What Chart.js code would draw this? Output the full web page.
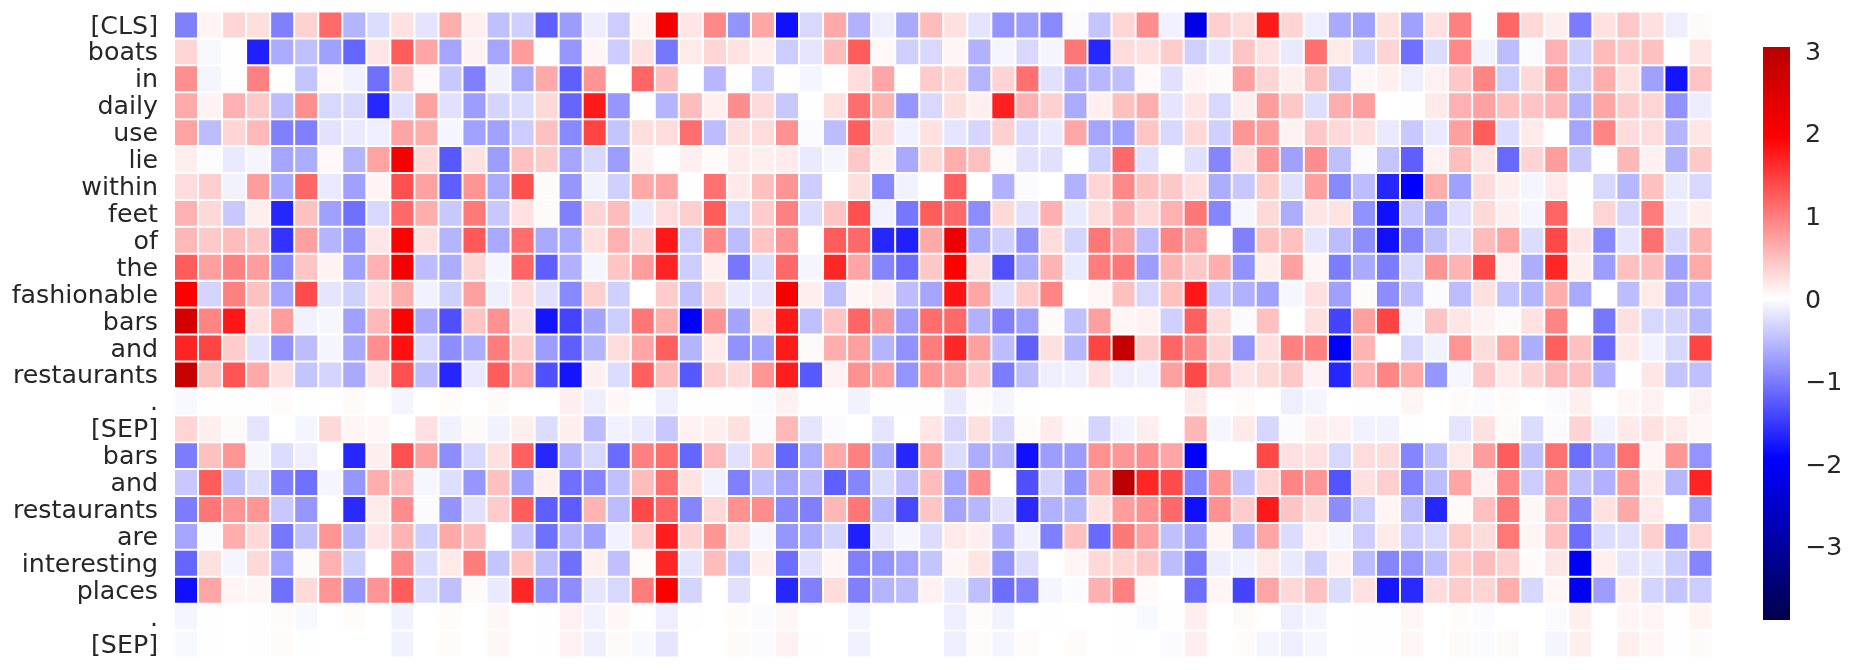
<!DOCTYPE html>
<html>
<head>
<meta charset="utf-8">
<title>Attention heatmap</title>
<script src="https://cdn.jsdelivr.net/npm/chart.js@4/dist/chart.umd.min.js"></script>
<style>
  html, body { margin: 0; padding: 0; background: #fff; overflow: hidden; }
  #heat { position: absolute; left: 0; top: 0; }
  #bar { position: absolute; left: 1740px; top: 0; }
</style>
</head>
<body>
<canvas id="heat" width="1740" height="670"></canvas>
<canvas id="bar" width="116" height="670"></canvas>
<script>
const tokens = ['[CLS]', 'boats', 'in', 'daily', 'use', 'lie', 'within', 'feet', 'of', 'the', 'fashionable', 'bars', 'and', 'restaurants', '.', '[SEP]', 'bars', 'and', 'restaurants', 'are', 'interesting', 'places', '.', '[SEP]']
const barTicks = [-3, -2, -1, 0, 1, 2, 3]
const barRange = [-3.9, 3.04]

const rowCls = [-.97,.09,.32,.25,-.97,.35,1.15,-.57,-.27,.23,-.21,.62,.12,-.48,-.36,-1.22,-.76,-.14,-.39,.08,2.1,.2,.9,-.82,.67,-1.83,-.3,.66,-.6,-.13,-.66,.51,.24,-.21,-.82,-.74,-.9,-.04,-.45,.32,.87,-.11,-2.2,.37,.27,1.75,.33,-.13,-.66,-.73,.24,-.73,.23,.97,-.01,1.17,.3,.13,-1,.23,.42,.24,-.13,.04]
const rowBoats = [.32,-.05,-.01,-1.71,-.65,-.48,-.73,-1.18,.2,1.25,.69,-.69,.1,-.69,.75,-.01,-.8,.08,-.39,.24,-1.05,.16,.32,.22,.12,-.39,-.2,.51,1.25,.05,-.36,-.3,.08,-.6,-.08,-.3,-.08,1.05,-1.66,.27,.24,.39,-.36,-.2,.45,.23,-.16,1.09,.16,-.36,.33,-1.09,-.27,.9,-.1,-.51,-.04,.6,-.36,.53,.41,.48,-.01,.2]
const rowIn = [.86,-.08,-.01,.97,-.01,-.45,.05,-.11,-1.09,.42,.04,-.42,-.97,-.1,-.65,.65,-1.22,.82,0,1.18,.49,.01,-.55,.01,-.36,-.01,-.08,.01,.26,.69,0,.39,.3,-.57,.33,1.09,-.23,-.6,-.55,-.48,.04,-.23,.08,.04,.73,.33,.13,.48,-.42,.07,.12,-.13,.11,.42,.93,-.39,.3,.76,-.39,.63,.23,-.73,-1.8,.45]
const rowDaily = [.65,.1,.6,.41,-.51,.86,-.3,-.3,-1.65,-.23,.72,-.23,-.75,-.33,-.27,.3,-1.17,1.75,-.8,-.01,-.57,.51,.12,.87,.28,-.42,-.01,.23,1.12,.57,-.8,-.3,.25,.12,1.71,.6,.36,-.65,.12,.48,.63,-.2,.2,-.3,.13,.76,.42,-.25,.63,.74,0,.01,.17,.6,.72,.48,.45,.56,-.6,.69,.39,.33,-.84,-.14]
const rowUse = [.71,-.51,.32,.54,-.97,-.97,-.22,-.17,-.13,.69,.62,-.08,-.72,-.72,-.39,.48,-.9,1.43,-.45,.25,.27,1.11,-.51,.24,.27,.84,-.04,-.51,1.23,.28,-.11,.23,-.2,-.32,.36,-.27,-.16,.67,-.69,-.73,.45,-.3,.3,-.36,.8,.76,.1,.42,.3,.24,-.17,-.42,-.17,.73,1.25,-.27,.16,-.01,-.69,.93,.27,.27,-.57,.2]
const rowLie = [.13,-.02,-.17,-.08,-.69,-.63,.05,-.57,.71,2.04,.3,-1.28,.22,-.75,.48,.39,-.69,-.3,-.75,.11,0,.12,.04,.15,.12,.15,-.17,-.08,.43,.12,-.66,.3,.63,.48,.04,-.23,-.23,0,-.36,1.15,-.23,-.01,-.23,-.93,.23,.82,-.73,.87,-.48,-.04,-.45,-1.22,.11,.49,.2,-1.15,.33,.76,-.42,0,.54,.11,-.6,.41]
const rowWithin = [.27,.37,-.1,.75,-.66,1.17,-.17,-.73,.09,1.34,.72,-1.22,.82,-.65,1.34,.04,-.8,-.1,-.36,.66,.69,.01,1.09,.17,.48,.82,-.39,0,.25,-.9,-.1,-.01,1.22,0,-.6,-.04,0,-.6,.33,.9,.48,.42,.24,-.63,-.42,.39,-.23,.73,-.9,-.51,-1.66,-1.95,.63,-.73,.27,.13,-.08,.17,-.01,-.3,-.55,.48,-.16,-.3]
const rowFeet = [.6,.3,-.42,.13,-1.66,.48,-.73,-1.09,-.3,1.15,.63,-.42,1.03,-.42,.23,.04,-.97,.33,.51,-.17,.27,.37,1.25,-.3,.39,.97,-.27,.44,1.34,-.1,-1.05,1.25,1.15,-.87,.3,-.23,.6,-.16,.27,.6,.3,.6,1.03,-.93,-.07,.3,-.63,.2,.22,-.84,-1.83,-.42,-.73,-.23,.3,.13,-.08,1.18,0,.33,-.31,1,-.14,.13]
const rowOf = [.54,.41,.51,.45,-1.56,.73,-.57,-.84,.2,1.95,.24,-.57,1.28,-.66,1.12,-.66,-.66,.24,.6,.33,1.77,-.39,.9,-.51,.45,.82,0,1.25,1.15,-1.66,-1.71,.66,2.2,-.66,-.36,-.84,.27,-.33,1.05,.73,-.51,.93,.73,0,-.97,.48,.48,-.2,-.51,-.87,-1.83,-.93,-.48,-.23,.51,.69,-.27,1.4,.2,-.9,-.2,1.09,-.3,.57]
const rowThe = [1.25,.73,.97,.76,-.9,.45,.1,-.73,.6,2.1,-.51,-.63,.33,-.08,1.18,-1.22,-.6,-.08,.45,.76,1.68,-.39,.12,-1.05,-.27,1.15,-.08,1.66,.69,-.93,-1.13,.42,1.95,.24,-1.34,-.63,.57,-.17,1,1.05,-.75,.57,.42,.63,-.84,.13,.73,.08,-1,-.66,-1,-.3,.82,.57,1.4,.11,-.63,1.66,.13,-.75,.48,.51,-.73,.66]
const rowFashionable = [1.95,-.33,.97,.48,-.69,1.38,-.2,-.36,.24,.63,-.11,-.36,.73,-.13,.27,-.23,-.9,.36,-.36,0,.39,-.48,.3,-.17,-.2,2.08,.13,-.48,.08,.13,-.51,-.69,1.8,.69,-.23,.39,.93,0,.07,.48,-.3,.48,1.78,-.42,-.6,-.73,-.07,.23,-.73,.04,-.87,-.48,-.03,-.51,.24,-.45,-.57,.63,-.66,0,-.51,.16,-.66,-.55]
const rowBars = [2.61,.93,1.78,.24,.76,-.1,-.07,-.73,.54,1.98,-.66,-1.34,.45,.84,.24,-1.8,-1.43,-.69,-.39,1.05,.63,-1.95,.82,-.69,.24,1.75,-.48,.45,1.18,.8,-.75,1.12,1.15,-.6,-.97,-.73,.04,-.48,.73,.08,.11,-.36,1.22,.27,-.04,.48,0,.24,-1.43,.73,1.43,-.07,.45,.2,.1,.04,.23,.93,0,-1.05,.24,-.3,-.33,-.55]
const rowAnd = [1.68,1.43,.39,-.23,-.84,-.51,-.08,-.66,.87,1.83,-.3,-.87,-.63,1,.39,-.75,-1.22,-.57,.27,.69,1.22,-.57,.16,-.84,-.73,1.75,.04,.63,.73,-.57,-.84,1,1.66,.73,-.51,-1.22,.24,-.55,1.43,2.85,.39,1.18,.93,.33,-.82,.25,.97,.97,-1.95,.57,0,-.3,-.1,.82,.27,.66,-.63,1.22,.48,-1.15,.17,-.1,-.3,1.43]
const rowRestaurants = [2.8,.48,1.31,.66,.24,-.45,-.33,-.66,.2,1.34,-.51,-1.66,-.17,1.25,.65,-1.34,-1.8,.11,-.27,1.22,.51,-1.28,.37,.28,.82,1.73,-1.28,.11,.84,.73,-.82,.8,.72,.39,-1,-.51,-.13,-.13,.24,-.13,-.11,.73,1.4,.54,.2,.3,.42,.1,-1.66,.57,.93,.66,-.8,-.07,.42,.17,.33,.54,.48,-.6,.01,.2,-.45,-.48]
const rowDot = [-.05,-.01,-.01,-.01,.03,-.01,0,.04,0,-.08,0,.03,0,.04,0,0,.13,-.13,.07,-.01,-.13,-.01,-.01,.01,-.03,.11,-.01,-.01,-.1,-.01,-.01,-.01,-.17,.03,-.08,-.01,0,0,0,0,0,0,.16,0,.03,0,-.13,-.08,0,-.01,-.01,.08,0,.03,-.03,.03,0,-.03,.13,0,.07,.11,0,.11]
const rowSep = [.33,.13,.04,-.2,0,-.08,.3,.08,.07,0,.24,-.11,.04,-.1,.13,-.27,.13,-.51,-.11,-.17,-.42,.11,.13,.24,-.04,.54,-.2,-.04,0,-.2,0,.2,-.3,.24,-.3,.03,.15,.03,-.33,-.1,.13,0,.54,-.07,.17,-.31,-.03,.12,.11,-.11,-.1,-.01,0,-.2,.23,.04,-.27,-.03,.33,-.1,.17,.23,.16,.07]
const rowBars2 = [-1,.48,.82,-.07,-.27,-.13,0,-1.66,.13,1.34,.73,-.87,-.3,.24,1.22,-1.66,-.57,-.3,-1.13,.97,1.12,-1.18,.54,-.23,.48,-1.18,-.63,.66,.97,-.63,-1.66,.69,-.27,-.63,-.55,-1.83,-.75,-.75,.84,.8,.87,.69,-2,0,0,1.4,.24,.23,-.3,.27,.27,-.93,-.48,.16,.76,1.25,-.48,1.09,-1.12,-.75,1.09,.08,.8,-.82]
const rowAnd2 = [-.42,1.25,-.48,-.27,-.97,-1.09,-.08,-.8,.63,.54,-.07,-.25,-.8,.48,-.73,.12,-1.09,-.93,-.48,.51,1.09,.22,-.1,-.97,-.48,-.69,-.51,-1.22,-.93,-.27,-.48,.51,-.69,.87,0,-1.34,-.33,-.8,.66,3,1.66,1.38,-.93,.8,-.45,.33,.93,.8,-1.31,.24,.37,-.97,-.51,.69,.11,.9,-.39,.76,-.48,-.6,.76,.17,-.55,1.68]
const rowRestaurants2 = [-1,1.05,.82,.8,-.42,-.8,0,-1.63,.16,.87,-.04,-.82,-.23,.39,1.25,-1.22,-1.25,.57,-.51,1.4,1.18,-.93,.3,.84,.87,-.9,-.97,.54,1.05,-.55,-1.4,.45,-.69,-.55,-.23,-1.63,-.6,-.57,.23,.76,.84,1.15,-1.83,.84,.39,1.75,.45,.27,-.87,-.39,.08,-.51,-1.66,.04,.48,1.03,.06,.54,-.9,.23,.66,.17,0,-.73]
const rowAre = [-.69,-.04,.63,.3,-1.05,-.48,.82,-.57,.2,.57,-.36,.66,.51,0,-.45,-1.09,-.57,-.73,-.11,.37,1.73,.33,.8,.23,-.07,-.8,-.63,-.33,-1.71,-.2,-.07,-.27,.16,.12,-.6,-.11,-.97,.48,-1.15,1.03,.73,-.48,-.73,.08,-.6,.69,-.27,.11,-.08,-.39,.16,-.39,-.3,.39,.27,1.03,.08,.48,-1.12,-.27,-.23,.37,-.84,.33]
const rowInteresting = [-1.18,.24,-.08,.3,-.69,.04,.6,-.36,0,.9,-.27,.16,1,-.45,.45,-.51,-1.09,.12,-.48,.03,1.66,-.2,.51,-.39,.13,-1.12,-.23,.08,-.97,-.82,-.69,-.45,.08,.2,-.82,-.27,0,.08,.3,.33,.42,-.51,-1,-.14,-.1,.16,-.17,-.36,.11,-.51,-.93,-.82,-.51,.39,.51,.37,.03,.2,-2.06,.12,-.2,-.2,-.39,-.93]
const rowPlaces = [-1.83,.69,.08,.08,-1.09,.28,.82,-.84,.82,1.25,-.27,-.48,.04,-.17,1.66,-.84,-.87,-.2,-.3,1,2,-.33,0,-.23,0,-1.66,-.97,.27,-.97,-.57,-.51,.11,-.17,-.48,-1.12,-.97,-.08,-.03,.6,.97,.04,0,-1.12,.08,-1.43,.69,.3,.48,-.27,.23,-1.78,-1.63,.27,.39,.33,.63,-.3,.07,-2.06,-.75,.13,-.33,-.45,-.39]
const rowDot2 = [-.08,-.01,0,-.01,.03,-.05,0,.03,0,-.1,0,.03,0,.07,0,-.01,.11,-.1,.06,-.01,-.13,-.01,0,.03,-.03,.07,0,0,-.08,0,0,0,-.13,.03,-.1,0,-.01,0,0,-.01,-.05,-.01,.13,0,.04,0,-.13,-.08,0,-.01,-.01,.07,0,.03,-.04,0,0,-.04,.12,0,.08,.08,-.01,.09]
const rowSep2 = [-.05,.01,0,-.01,.03,-.01,0,0,0,-.11,0,.03,0,.07,0,-.01,.11,-.13,.04,-.05,-.2,0,0,.04,-.03,.11,-.01,0,-.11,0,0,0,-.13,.03,-.08,.03,0,.03,0,-.01,0,-.04,.13,0,.03,-.08,-.13,-.07,0,-.01,-.01,.07,0,.04,-.04,.04,0,-.08,.13,0,.12,.08,-.01,.04]

const matrix = [rowCls, rowBoats, rowIn, rowDaily, rowUse, rowLie, rowWithin, rowFeet, rowOf, rowThe, rowFashionable, rowBars, rowAnd, rowRestaurants, rowDot, rowSep, rowBars2, rowAnd2, rowRestaurants2, rowAre, rowInteresting, rowPlaces, rowDot2, rowSep2]
const columns = rowCls.map((_, i) => i)

// seismic colormap, centered on 0 like seaborn does
const vrange = 3.9
function seismic(v) {
  const t = Math.max(-1, Math.min(1, v / vrange))
  let r, g, b
  if (t < -0.5) {
    r = 0; g = 0; b = 255 - (-t - 0.5) * 2 * (255 - 76.5)
  } else if (t < 0) {
    const k = 1 + t * 2
    r = 255 * k; g = 255 * k; b = 255
  } else if (t < 0.5) {
    const k = 1 - t * 2
    r = 255; g = 255 * k; b = 255 * k
  } else {
    r = 255 - (t - 0.5) * 2 * 127.5; g = 0; b = 0
  }
  return `rgb(${Math.round(r)},${Math.round(g)},${Math.round(b)})`
}

const labelFont = { family: '"DejaVu Sans"', size: 25.3 }
const textColor = '#262626'

// canvas middle baseline sits a bit higher than the reference text
const nudgeLabels = (dy) => ({
  id: 'nudgeLabels',
  beforeDraw(chart) {
    if (chart.$nudged) return
    chart.$nudged = true
    chart.scales.y.getLabelItems().forEach((item) => { item.options.translation[1] += dy })
  },
})

new Chart(document.getElementById('heat'), {
  type: 'bar',
  plugins: [nudgeLabels(2)],
  data: {
    labels: tokens,
    datasets: columns.map((col) => ({
      data: tokens.map(() => [col, col + 1]),
      backgroundColor: matrix.map((row) => seismic(row[col])),
      borderColor: '#fff',
      borderWidth: 1,
      borderSkipped: false,
      inflateAmount: 0,
      barPercentage: 1,
      categoryPercentage: 1,
      grouped: false,
    })),
  },
  options: {
    indexAxis: 'y',
    responsive: false,
    animation: false,
    layout: { padding: { top: 11.5, bottom: 12.5, right: 27.5 } },
    plugins: { legend: { display: false }, tooltip: { enabled: false } },
    scales: {
      x: { type: 'linear', min: 0, max: columns.length, display: false },
      y: {
        type: 'category',
        grid: { display: false, drawTicks: false },
        border: { display: false },
        ticks: { autoSkip: false, color: textColor, font: labelFont, padding: 16 },
        afterFit(scale) {
          scale.width = 174
          scale.paddingTop = 0
          scale.paddingBottom = 0
        },
      },
    },
  },
})

new Chart(document.getElementById('bar'), {
  type: 'bar',
  plugins: [nudgeLabels(3)],
  data: {
    labels: [''],
    datasets: [{
      data: [barRange],
      backgroundColor(ctx) {
        const { chartArea } = ctx.chart
        if (!chartArea) return '#fff'
        const grad = ctx.chart.ctx.createLinearGradient(0, chartArea.bottom, 0, chartArea.top)
        const span = barRange[1] - barRange[0]
        const stops = [barRange[0], -1.95, 0, 1.95, barRange[1]]
        stops.forEach((v) => grad.addColorStop((v - barRange[0]) / span, seismic(v)))
        return grad
      },
      borderWidth: 0,
      inflateAmount: 0,
      barPercentage: 1,
      categoryPercentage: 1,
    }],
  },
  options: {
    responsive: false,
    animation: false,
    layout: { padding: { left: 23, top: 47, bottom: 50 } },
    plugins: { legend: { display: false }, tooltip: { enabled: false } },
    scales: {
      x: { display: false },
      y: {
        position: 'right',
        min: barRange[0],
        max: barRange[1],
        afterBuildTicks(scale) { scale.ticks = barTicks.map((value) => ({ value })) },
        grid: { display: false, drawTicks: false },
        border: { display: false },
        ticks: {
          color: textColor,
          font: labelFont,
          padding: 15,
          callback: (v) => String(v).replace('-', '\u2212'),
        },
        afterFit(scale) { scale.width = 66 },
      },
    },
  },
})
</script>
</body>
</html>
